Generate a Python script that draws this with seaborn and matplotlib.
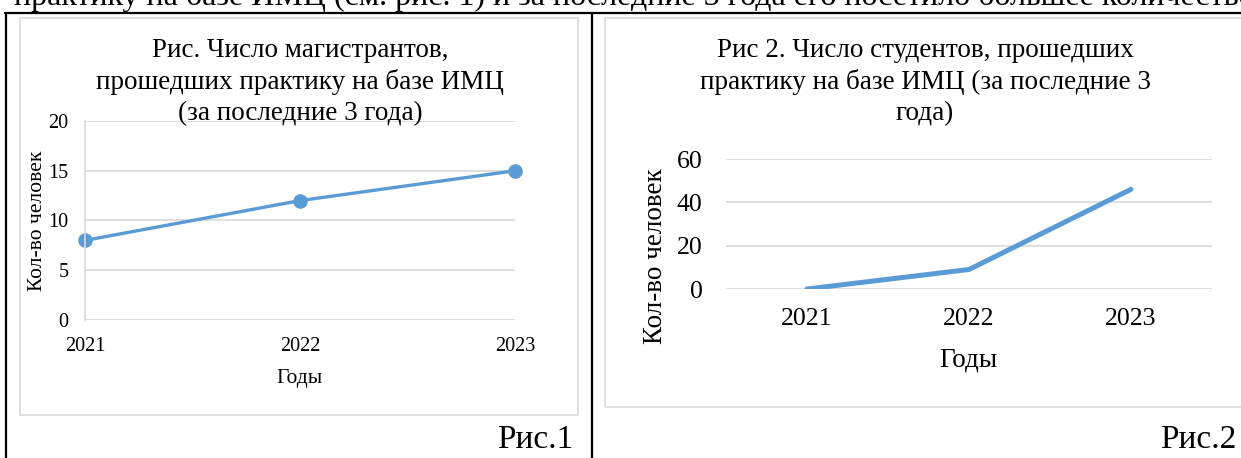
import matplotlib
matplotlib.use("Agg")
import matplotlib.pyplot as plt
import seaborn as sns
from matplotlib.patches import Rectangle
from matplotlib.lines import Line2D

# data
years = [2021, 2022, 2023]
masters = [8, 12, 15]
students = [0, 9, 46]
yticks_left = [0, 5, 10, 15, 20]
yticks_right = [0, 20, 40, 60]

title1 = "Рис. Число магистрантов,\nпрошедших практику на базе ИМЦ\n(за последние 3 года)"
title2 = "Рис 2. Число студентов, прошедших\nпрактику на базе ИМЦ (за последние 3\nгода)"
ylab = "Кол-во человек"
xlab = "Годы"
top_line = "практику на базе ИМЦ (см. рис. 1) и за последние 3 года его посетило большее количество"

sns.set_theme(style="white")
plt.rcParams['font.family'] = ['Liberation Serif', 'DejaVu Serif']
plt.rcParams['text.color'] = 'black'
plt.rcParams['xtick.color'] = 'black'
plt.rcParams['ytick.color'] = 'black'

W, H = 1241, 458
blue = '#5B9BD5'
grid = '#d9d9d9'

fig = plt.figure(figsize=(W / 100, H / 100), dpi=100)


def fx(x):
    return x / W


def fy(y):
    return 1 - y / H


def rect(x0, y0, x1, y1):
    return [fx(x0), fy(y1), (x1 - x0) / W, (y1 - y0) / H]


# document text cut at the top (it is cut in the source page too)
fig.text(fx(14), fy(5), top_line, fontsize=23, ha='left', va='baseline')

# table borders
for (x0, y0, x1, y1) in [(5, 13, 1241, 13), (6, 13, 6, 458), (592, 13, 592, 458)]:
    fig.add_artist(Line2D([fx(x0), fx(x1)], [fy(y0), fy(y1)], color='black', lw=1.6))

# chart frames
for (x0, y0, x1, y1) in [(20, 18, 578, 415), (605, 18, 1245, 407)]:
    fig.add_artist(Rectangle((fx(x0), fy(y1)), (x1 - x0) / W, (y1 - y0) / H,
                             fill=False, edgecolor=grid, lw=1.2))

# ---- chart 1
ax1 = fig.add_axes(rect(85, 121, 515, 320))
sns.lineplot(x=years, y=masters, ax=ax1, color=blue, lw=2.4, marker='o',
             markersize=10.5, markeredgewidth=0, clip_on=False)
ax1.set_xlim(2021, 2023)
ax1.set_ylim(0, 20)
ax1.set_xticks(years)
ax1.set_yticks(yticks_left)
ax1.grid(axis='y', color=grid, lw=1.2)
ax1.set_axisbelow(True)
for s in ['top', 'right', 'bottom']:
    ax1.spines[s].set_visible(False)
ax1.spines['left'].set_color(grid)
ax1.spines['left'].set_linewidth(1.2)
ax1.tick_params(axis='y', length=0, pad=12, labelsize=14.5)
ax1.tick_params(axis='x', length=0, pad=12, labelsize=14.5)
ax1.set_xlabel('')
ax1.set_ylabel('')

fig.text(fx(300), fy(82), title1, fontsize=19.5, ha='center', va='center', linespacing=1.3)
fig.text(fx(38), fy(221), ylab, fontsize=15.5, rotation=90, ha='center', va='center')
fig.text(fx(300), fy(379), xlab, fontsize=15.5, ha='center', va='center')
fig.text(fx(573), fy(440), "Рис.1", fontsize=24, ha='right', va='center')

# ---- chart 2
ax2 = fig.add_axes(rect(726, 159, 1212, 289))
sns.lineplot(x=years, y=students, ax=ax2, color=blue, lw=3.6, solid_capstyle='round')
ax2.set_xlim(2020.5, 2023.5)
ax2.set_ylim(0, 60)
ax2.set_xticks(years)
ax2.set_yticks(yticks_right)
ax2.grid(axis='y', color=grid, lw=1.2)
ax2.set_axisbelow(True)
for s in ['top', 'right', 'bottom', 'left']:
    ax2.spines[s].set_visible(False)
ax2.tick_params(axis='y', length=0, pad=17, labelsize=18.5)
ax2.tick_params(axis='x', length=0, pad=14, labelsize=18.5)
ax2.set_xlabel('')
ax2.set_ylabel('')

fig.text(fx(925), fy(82), title2, fontsize=19.5, ha='center', va='center', linespacing=1.3)
fig.text(fx(655), fy(256), ylab, fontsize=19.5, rotation=90, ha='center', va='center')
fig.text(fx(968), fy(360), xlab, fontsize=19.5, ha='center', va='center')
fig.text(fx(1236), fy(440), "Рис.2", fontsize=24, ha='right', va='center')

fig.savefig('out.png', dpi=100)
